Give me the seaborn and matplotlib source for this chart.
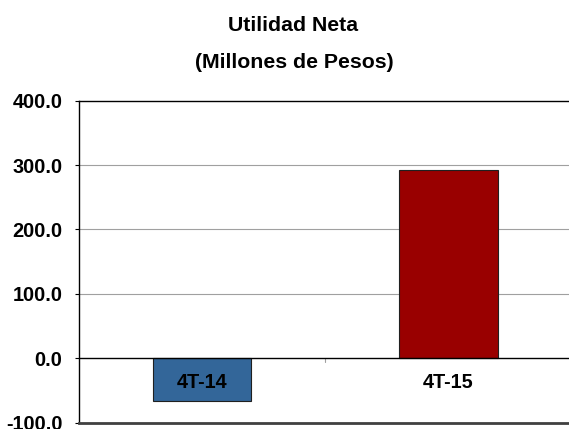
import pandas as pd
import seaborn as sns
import matplotlib.pyplot as plt

periods = ["4T-14", "4T-15"]
net_income = [-66.3, 292.4]
bar_colors = ["#336699", "#990000"]
yticks = [-100, 0, 100, 200, 300, 400]

df = pd.DataFrame({"period": periods, "value": net_income})

sns.set_style("white")
plt.rcParams["font.family"] = ["Liberation Sans", "DejaVu Sans"]
plt.rcParams["font.weight"] = "bold"
plt.rcParams["text.color"] = "black"

fig = plt.figure(figsize=(5.69, 4.29), dpi=100)
ax = fig.add_axes([0.1388, 0.0147, 0.866, 0.7506])

sns.barplot(data=df, x="period", y="value", hue="period", palette=bar_colors,
            saturation=1, width=0.4, edgecolor="#202020", linewidth=0.8,
            legend=False, ax=ax)

ax.set_xlim(-0.5, 1.5)
ax.set_ylim(-100, 400)
ax.set_yticks(yticks)
ax.set_yticklabels([f"{v:.1f}" for v in yticks], fontsize=14.3,
                   fontweight="bold", color="black")
ax.tick_params(axis="y", length=3, width=0.8, color="black", pad=9, left=True)
ax.set_xticks([])
ax.set(xlabel=None, ylabel=None)

for v in [100, 200, 300]:
    ax.axhline(v, color="#a0a0a0", lw=0.8, zorder=0)
ax.axhline(0, color="black", lw=1.0, zorder=3)
ax.plot([0.5, 0.5], [0, -5], color="#a0a0a0", lw=0.8, clip_on=False)

for i, p in enumerate(periods):
    ax.text(i, -37, p, ha="center", va="center", fontsize=14.3,
            fontweight="bold", color="black", zorder=4)

for s in ["left", "top"]:
    ax.spines[s].set_color("black")
    ax.spines[s].set_linewidth(1.0)
ax.spines["bottom"].set_color("#404040")
ax.spines["bottom"].set_linewidth(2.0)
ax.spines["right"].set_visible(False)

fig.text(0.515, 0.94, "Utilidad Neta", ha="center", va="center",
         fontsize=15.3, fontweight="bold")
fig.text(0.517, 0.855, "(Millones de Pesos)", ha="center", va="center",
         fontsize=15.3, fontweight="bold")

plt.savefig("out.png", dpi=100)
